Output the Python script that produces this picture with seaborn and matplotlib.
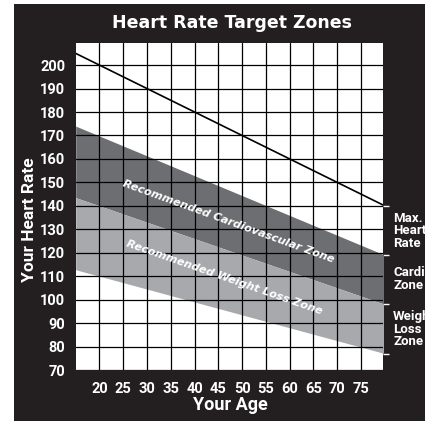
import matplotlib

matplotlib.use("Agg")
import matplotlib.pyplot as plt
import matplotlib.transforms as mtransforms
from matplotlib.patches import Rectangle
import pandas as pd
import seaborn as sns

# values
ages = [15, 80]
max_hr = [205, 140]
cardio_top = [174, 119]
cardio_bottom = [143.5, 98]
weight_bottom = [112.75, 77]

age_ticks = [20, 25, 30, 35, 40, 45, 50, 55, 60, 65, 70, 75]
hr_ticks = [70, 80, 90, 100, 110, 120, 130, 140, 150, 160, 170, 180, 190, 200]
zone_ticks = [140, 119, 98, 77]
zone_labels = ["Max.\nHeart\nRate", "Cardio\nZone", "Weight\nLoss\nZone"]
zone_label_y = [137.5, 114.2, 95.5]

BG = "#231f20"
DARK = "#6d6e71"
LIGHT = "#a7a9ac"
NARROW = ["Roboto", "DejaVu Sans"]

sns.set_theme(style="white")
plt.rcParams["font.family"] = NARROW
plt.rcParams["font.stretch"] = "condensed"

W, H = 425, 421
fig = plt.figure(figsize=(W / 100, H / 100), dpi=100, facecolor="white")
fig.patches.append(
    Rectangle((14 / W, 0), 1 - 14 / W, 1 - 4 / H, transform=fig.transFigure,
              facecolor=BG, edgecolor="none", zorder=-10)
)

left, right, top, bottom = 75.7, 383.3, 43.3, 370.0
ax = fig.add_axes([left / W, 1 - bottom / H, (right - left) / W, (bottom - top) / H])
ax.set_facecolor("white")

df = pd.DataFrame({"age": ages, "max_hr": max_hr})

ax.fill_between(ages, cardio_bottom, cardio_top, color=DARK, lw=0, zorder=1)
ax.fill_between(ages, weight_bottom, cardio_bottom, color=LIGHT, lw=0, zorder=1)
sns.lineplot(data=df, x="age", y="max_hr", color="black", lw=1.2, ax=ax, zorder=4)

ax.set_xlim(15, 79.7)
ax.set_ylim(70, 209.3)
ax.set_xticks(age_ticks)
ax.set_yticks(hr_ticks)
ax.grid(True, color="black", lw=0.9)
ax.set_axisbelow(False)
for sp in ax.spines.values():
    sp.set_visible(False)

ax.tick_params(axis="both", colors="white", length=3.5, width=1, direction="out",
               labelsize=10.5, pad=4)
ax.tick_params(axis="x", pad=5)
for lab in ax.get_xticklabels() + ax.get_yticklabels():
    lab.set_fontweight("bold")
ax.set_xlabel("")
ax.set_ylabel("")

sec = ax.secondary_yaxis("right")
sec.set_yticks(zone_ticks)
sec.set_yticklabels([])
sec.tick_params(colors="white", length=4, width=1, direction="out")
for sp in sec.spines.values():
    sp.set_visible(False)

trans = mtransforms.blended_transform_factory(ax.transAxes, ax.transData)
for lab, y in zip(zone_labels, zone_label_y):
    ax.text(1.032, y, lab, transform=trans, ha="left", va="top", color="white",
            fontsize=9.5, fontweight="bold", linespacing=0.95, clip_on=False)

# zone names along the bands
ax.text(47.2, 133.3, "Recommended Cardiovascular Zone", rotation=-20,
        rotation_mode="anchor", ha="center", va="center", color="white",
        family="DejaVu Sans", fontstretch="normal", fontsize=8, fontweight="bold",
        style="italic", zorder=5)
ax.text(46.2, 109.4, "Recommended Weight Loss Zone", rotation=-19.3,
        rotation_mode="anchor", ha="center", va="center", color="white",
        family="DejaVu Sans", fontstretch="normal", fontsize=8, fontweight="bold",
        style="italic", zorder=5)

fig.text(232 / W, 1 - 23 / H, "Heart Rate Target Zones", ha="center", va="center",
         color="white", family="DejaVu Sans", fontstretch="normal", fontsize=12.5,
         fontweight="bold")
fig.text(30 / W, 1 - 220 / H, "Your Heart Rate", rotation=90, ha="center", va="center",
         color="white", fontsize=12.5, fontweight="bold")
fig.text(230 / W, 1 - 405 / H, "Your Age", ha="center", va="center",
         color="white", fontsize=13, fontweight="bold")

fig.savefig("out.png", dpi=100, facecolor="white")
